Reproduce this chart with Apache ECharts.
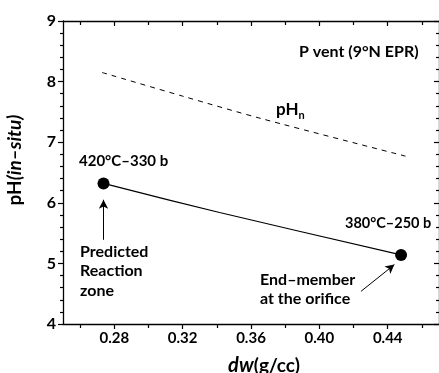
<!DOCTYPE html>
<html>
<head>
<meta charset="utf-8">
<script src="https://cdn.jsdelivr.net/npm/echarts@6/dist/echarts.min.js"></script>
<style>html,body{margin:0;padding:0;background:#fff}#c{width:439px;height:373px}</style>
</head>
<body>
<div id="c"></div>
<script>
// ---- data ----
var xMajorTicks = [0.28, 0.32, 0.36, 0.40, 0.44];
var xMinorTicks = [0.26, 0.30, 0.34, 0.38, 0.42, 0.46];
var pathX = [0.2737, 0.3416, 0.4478];
var pathPH = [6.32, 5.84, 5.14];
var endX = [0.2737, 0.4478];
var endPH = [6.32, 5.14];
var pHnX = [0.2729, 0.32, 0.366, 0.4504];
var pHnY = [8.15, 7.76, 7.39, 6.77];
var arrowReaction = [[0.2737, 5.39], [0.2737, 6.05]];
var arrowOrifice = [[0.4244, 4.54], [0.4439, 4.98]];

var FONT = 'Lato';
function zip(a, b) { return a.map(function (v, i) { return [v, b[i]]; }); }

var chart = echarts.init(document.getElementById('c'), null, {renderer: 'canvas'});
var xBase = {type: 'value', min: 0.25, max: 0.47, splitLine: {show: false}, gridIndex: 0};
var option = {
  animation: false,
  backgroundColor: '#fff',
  grid: {left: 63, top: 21, width: 377, height: 303},
  xAxis: [
    Object.assign({}, xBase, {position: 'bottom',
      axisLine: {show: true, lineStyle: {color: '#000', width: 1.3}},
      axisTick: {show: true, inside: false, length: 5, customValues: xMajorTicks, lineStyle: {color: '#000', width: 1.2}},
      axisLabel: {show: true, customValues: xMajorTicks, color: '#000', fontFamily: FONT, fontWeight: 'bold', fontSize: 15, margin: 7,
        formatter: function (v) { return v.toFixed(2); }}}),
    Object.assign({}, xBase, {position: 'bottom',
      axisLine: {show: false},
      axisTick: {show: true, inside: false, length: 4, customValues: xMinorTicks, lineStyle: {color: '#000', width: 1.2}},
      axisLabel: {show: false}}),
    Object.assign({}, xBase, {position: 'top',
      axisLine: {show: true, lineStyle: {color: '#000', width: 1.3}},
      axisTick: {show: true, inside: true, length: 5, customValues: xMajorTicks, lineStyle: {color: '#000', width: 1.2}},
      axisLabel: {show: false}}),
    Object.assign({}, xBase, {position: 'top',
      axisLine: {show: false},
      axisTick: {show: true, inside: true, length: 4, customValues: xMinorTicks, lineStyle: {color: '#000', width: 1.2}},
      axisLabel: {show: false}})
  ],
  yAxis: [
    {type: 'value', min: 4, max: 9, interval: 1, position: 'left', splitLine: {show: false},
      axisLine: {show: true, lineStyle: {color: '#000', width: 1.3}},
      axisTick: {show: true, inside: false, length: 5, lineStyle: {color: '#000', width: 1.2}},
      minorTick: {show: true, splitNumber: 5, length: 3, lineStyle: {color: '#000', width: 1.2}},
      minorSplitLine: {show: false},
      axisLabel: {color: '#000', fontFamily: FONT, fontWeight: 'bold', fontSize: 16, margin: 7}},
    {type: 'value', min: 4, max: 9, interval: 1, position: 'right', splitLine: {show: false},
      axisLine: {show: true, lineStyle: {color: '#000', width: 1.3}},
      axisTick: {show: true, inside: true, length: 5, lineStyle: {color: '#000', width: 1.2}},
      minorTick: {show: true, splitNumber: 5, length: 3, lineStyle: {color: '#000', width: 1.2}},
      axisLabel: {show: false}}
  ],
  series: [
    {type: 'line', xAxisIndex: 0, yAxisIndex: 0, data: zip(pHnX, pHnY), smooth: 0.3, showSymbol: false,
      lineStyle: {color: '#000', width: 1, type: [5, 5]}},
    {type: 'line', xAxisIndex: 0, yAxisIndex: 0, data: zip(pathX, pathPH), smooth: 0.3, showSymbol: false,
      lineStyle: {color: '#000', width: 1.2},
      markLine: {silent: true, symbol: ['none', 'arrow'], symbolSize: [7, 9], label: {show: false},
        lineStyle: {color: '#000', width: 1, type: 'solid'},
        data: [
          [{coord: arrowReaction[0]}, {coord: arrowReaction[1]}],
          [{coord: arrowOrifice[0]}, {coord: arrowOrifice[1]}]
        ]}},
    {type: 'scatter', xAxisIndex: 0, yAxisIndex: 0, data: zip(endX, endPH), symbol: 'circle', symbolSize: 12,
      itemStyle: {color: '#000', opacity: 1}, emphasis: {disabled: true}}
  ],
  graphic: [
    {type: 'text', left: 299, top: 44, style: {text: 'P vent (9°N EPR)', font: 'bold 16px ' + FONT, fill: '#000'}},
    {type: 'text', left: 276, top: 101, style: {text: '{a|pH}{b|n}', fill: '#000',
      rich: {a: {font: 'bold 17px ' + FONT}, b: {font: 'bold 11px ' + FONT, padding: [11, 0, 0, 0]}}}},
    {type: 'text', left: 79, top: 154, style: {text: '420°C–330 b', font: 'bold 15px ' + FONT, fill: '#000'}},
    {type: 'text', left: 345, top: 216, style: {text: '380°C–250 b', font: 'bold 14.5px ' + FONT, fill: '#000'}},
    {type: 'text', left: 80, top: 242, style: {text: 'Predicted\nReaction\nzone', font: 'bold 16px ' + FONT, lineHeight: 19.5, fill: '#000'}},
    {type: 'text', left: 260, top: 270, style: {text: 'End–member\nat the orifice', font: 'bold 16px ' + FONT, lineHeight: 19, fill: '#000'}},
    {type: 'text', x: 264, y: 366, style: {text: '{i|dw}{n|(g/cc)}', align: 'center', verticalAlign: 'middle', fill: '#000',
      rich: {i: {font: 'italic bold 20px ' + FONT}, n: {font: 'bold 19px ' + FONT}}}},
    {type: 'text', x: 15, y: 160, rotation: Math.PI / 2, style: {text: '{n|pH}{i|(in–situ)}', align: 'center', verticalAlign: 'middle', fill: '#000',
      rich: {n: {font: 'bold 19px ' + FONT}, i: {font: 'italic bold 19px ' + FONT}}}}
  ]
};
chart.setOption(option);
</script>
</body>
</html>
